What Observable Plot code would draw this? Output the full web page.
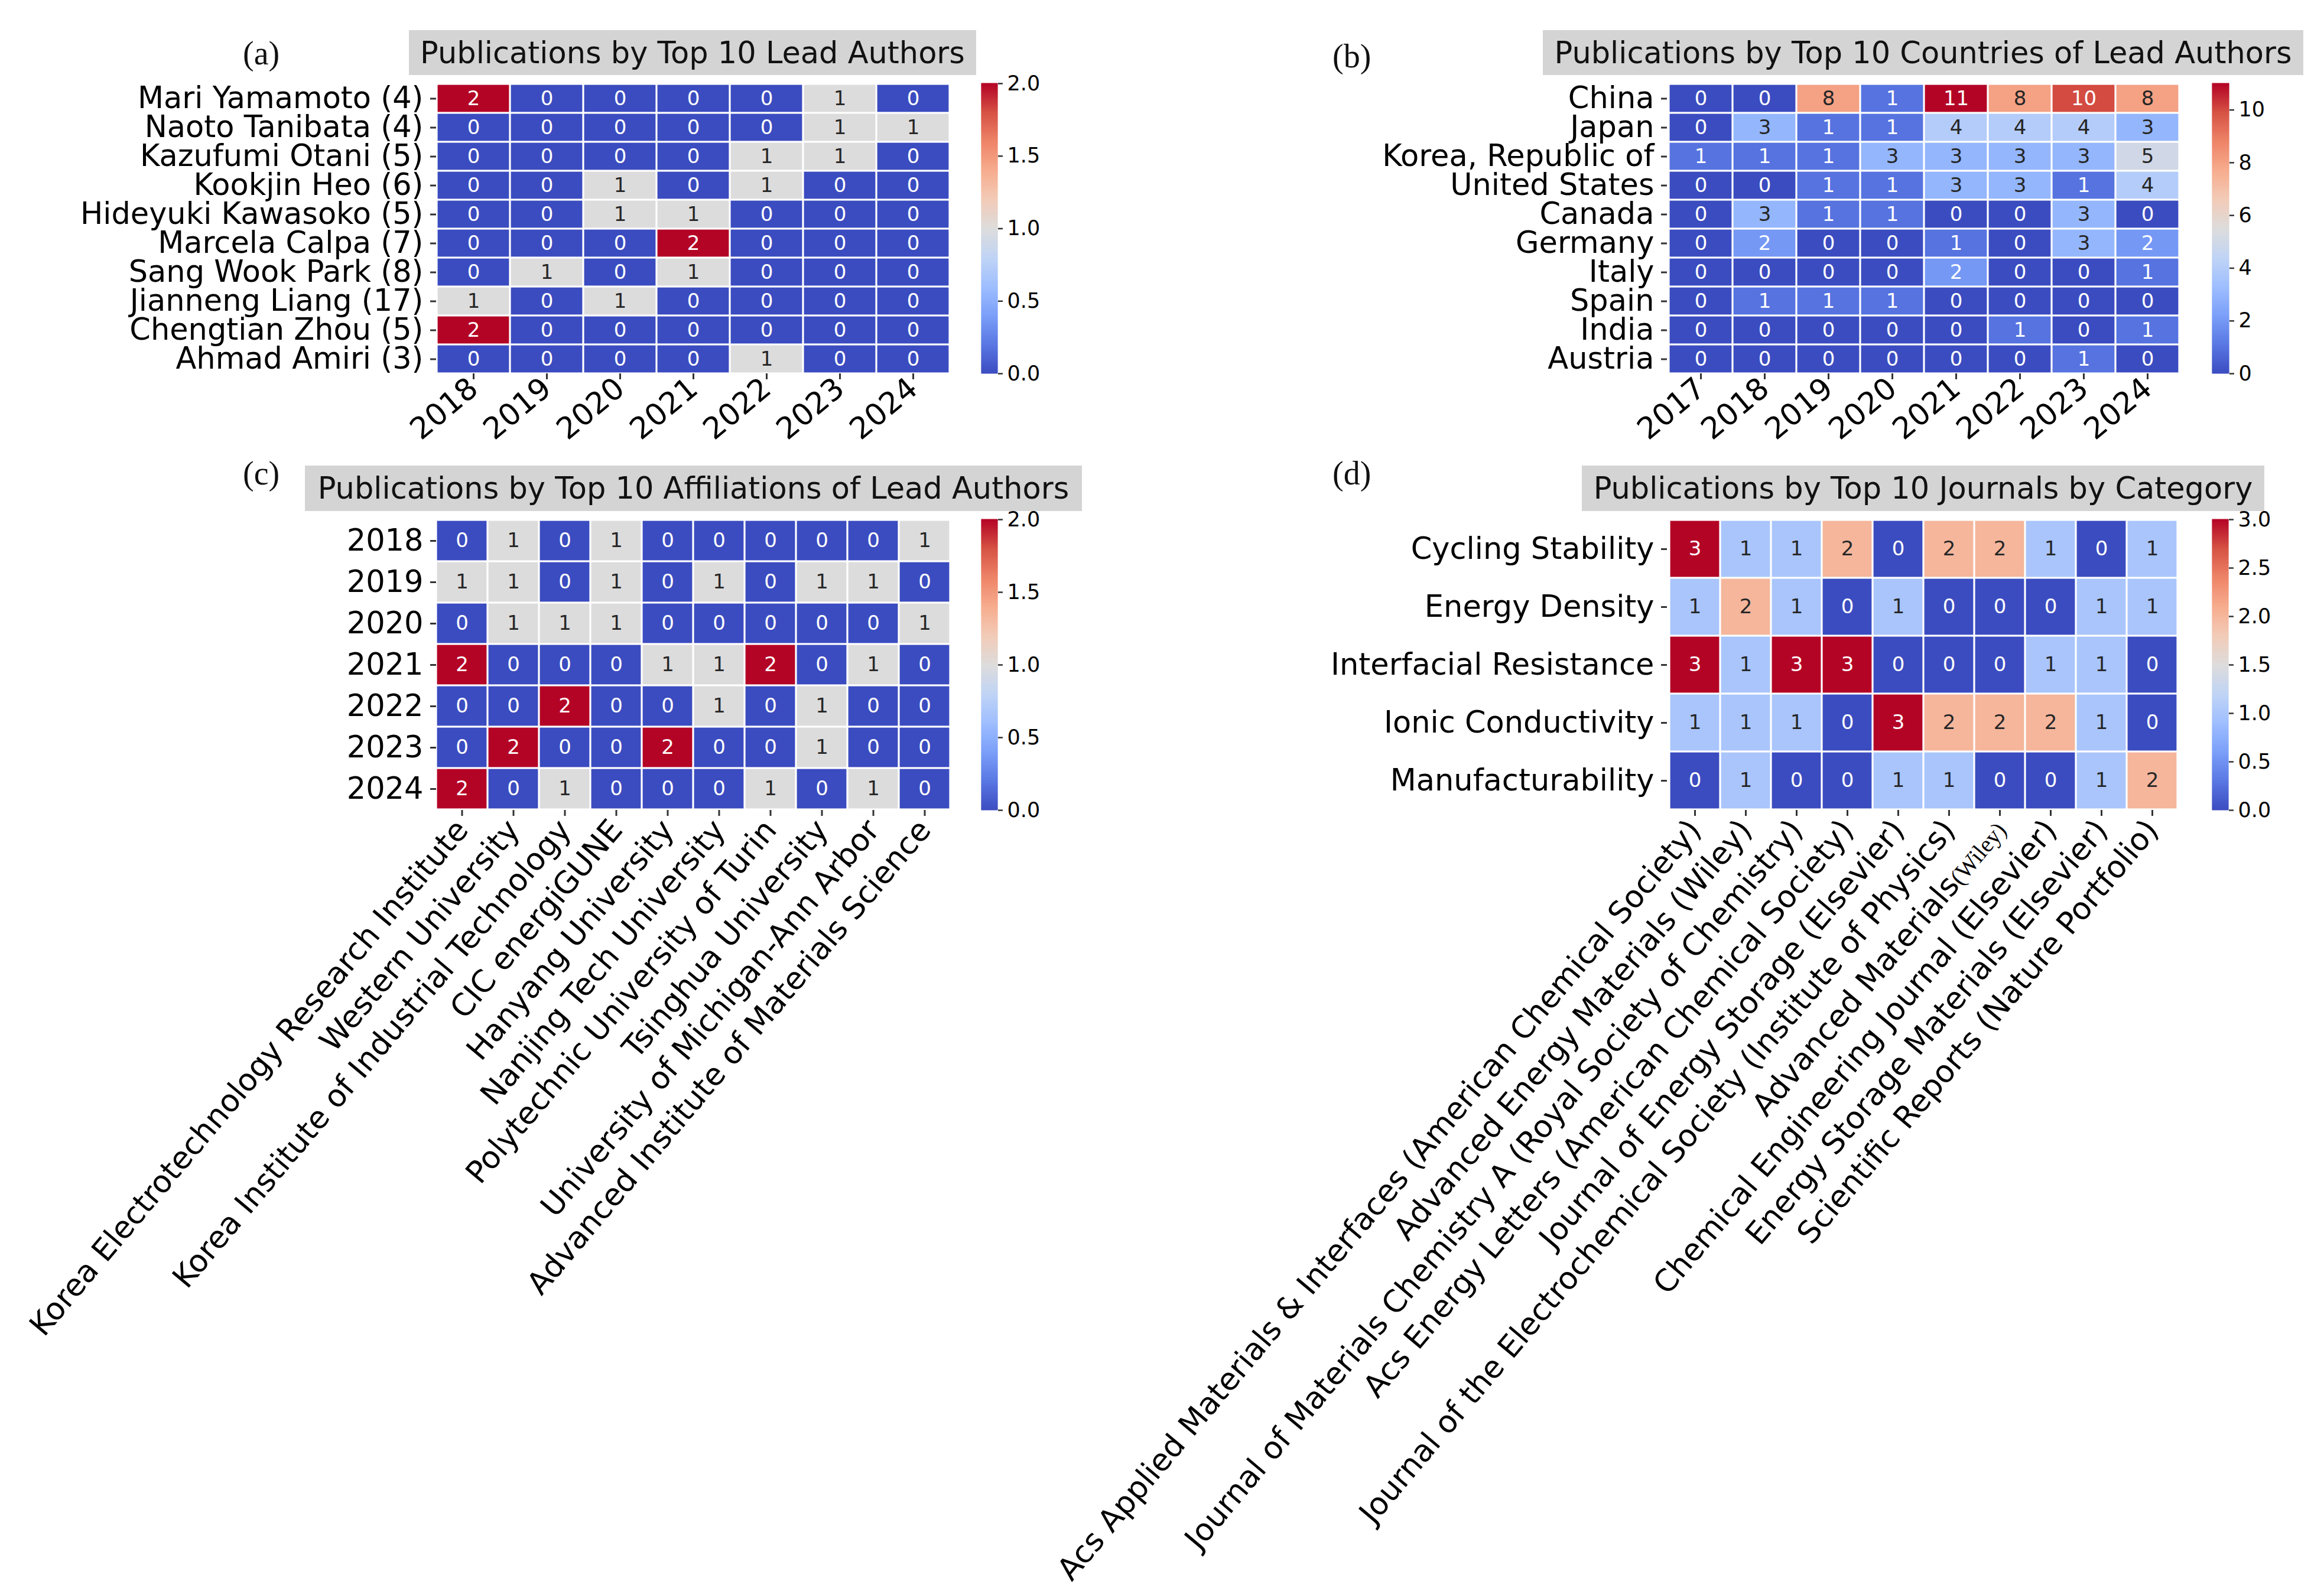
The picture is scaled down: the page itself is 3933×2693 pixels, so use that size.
<!DOCTYPE html>
<html>
<head>
<meta charset="utf-8">
<script src="https://cdn.jsdelivr.net/npm/d3@7"></script>
<script src="https://cdn.jsdelivr.net/npm/@observablehq/plot@0.6"></script>
<style>
  html, body { margin: 0; padding: 0; background: #fff; }
  #page { position: relative; width: 3933px; height: 2693px; overflow: hidden; background: #fff; }
  .title { position: absolute; background: #d4d4d4; display: flex; align-items: center; justify-content: center;
           font-family: "DejaVu Sans", sans-serif; font-size: 51px; color: #111; white-space: nowrap; }
  .plabel { position: absolute; font-family: "Liberation Serif", "Times New Roman", serif; font-size: 56px; line-height: 1; color: #111; }
  svg { overflow: visible; }
</style>
</head>
<body>
<div id="page"></div>
<script>
// ---------- DATA ----------
// (a) lead authors
const authorNames = ["Mari Yamamoto (4)", "Naoto Tanibata (4)", "Kazufumi Otani (5)", "Kookjin Heo (6)", "Hideyuki Kawasoko (5)",
  "Marcela Calpa (7)", "Sang Wook Park (8)", "Jianneng Liang (17)", "Chengtian Zhou (5)", "Ahmad Amiri (3)"];
const authorYears = ["2018", "2019", "2020", "2021", "2022", "2023", "2024"];
const authorCounts = [
  [2, 0, 0, 0, 0, 1, 0],
  [0, 0, 0, 0, 0, 1, 1],
  [0, 0, 0, 0, 1, 1, 0],
  [0, 0, 1, 0, 1, 0, 0],
  [0, 0, 1, 1, 0, 0, 0],
  [0, 0, 0, 2, 0, 0, 0],
  [0, 1, 0, 1, 0, 0, 0],
  [1, 0, 1, 0, 0, 0, 0],
  [2, 0, 0, 0, 0, 0, 0],
  [0, 0, 0, 0, 1, 0, 0]
];
const authorTicks = [0, 0.5, 1, 1.5, 2];

// (b) countries
const countryNames = ["China", "Japan", "Korea, Republic of", "United States", "Canada", "Germany", "Italy", "Spain", "India", "Austria"];
const countryYears = ["2017", "2018", "2019", "2020", "2021", "2022", "2023", "2024"];
const countryCounts = [
  [0, 0, 8, 1, 11, 8, 10, 8],
  [0, 3, 1, 1, 4, 4, 4, 3],
  [1, 1, 1, 3, 3, 3, 3, 5],
  [0, 0, 1, 1, 3, 3, 1, 4],
  [0, 3, 1, 1, 0, 0, 3, 0],
  [0, 2, 0, 0, 1, 0, 3, 2],
  [0, 0, 0, 0, 2, 0, 0, 1],
  [0, 1, 1, 1, 0, 0, 0, 0],
  [0, 0, 0, 0, 0, 1, 0, 1],
  [0, 0, 0, 0, 0, 0, 1, 0]
];
const countryTicks = [0, 2, 4, 6, 8, 10];

// (c) affiliations
const affilYears = ["2018", "2019", "2020", "2021", "2022", "2023", "2024"];
const affilNames = ["Korea Electrotechnology Research Institute", "Western University", "Korea Institute of Industrial Technology",
  "CIC energiGUNE", "Hanyang University", "Nanjing Tech University", "Polytechnic University of Turin",
  "Tsinghua University", "University of Michigan-Ann Arbor", "Advanced Institute of Materials Science"];
const affilCounts = [
  [0, 1, 0, 1, 0, 0, 0, 0, 0, 1],
  [1, 1, 0, 1, 0, 1, 0, 1, 1, 0],
  [0, 1, 1, 1, 0, 0, 0, 0, 0, 1],
  [2, 0, 0, 0, 1, 1, 2, 0, 1, 0],
  [0, 0, 2, 0, 0, 1, 0, 1, 0, 0],
  [0, 2, 0, 0, 2, 0, 0, 1, 0, 0],
  [2, 0, 1, 0, 0, 0, 1, 0, 1, 0]
];
const affilTicks = [0, 0.5, 1, 1.5, 2];

// (d) journals by category
const categoryNames = ["Cycling Stability", "Energy Density", "Interfacial Resistance", "Ionic Conductivity", "Manufacturability"];
const journalNames = ["Acs Applied Materials & Interfaces (American Chemical Society)", "Advanced Energy Materials (Wiley)",
  "Journal of Materials Chemistry A (Royal Society of Chemistry)", "Acs Energy Letters (American Chemical Society)",
  "Journal of Energy Storage (Elsevier)", "Journal of the Electrochemical Society (Institute of Physics)",
  "Advanced Materials(Wiley)", "Chemical Engineering Journal (Elsevier)", "Energy Storage Materials (Elsevier)",
  "Scientific Reports (Nature Portfolio)"];
const journalCounts = [
  [3, 1, 1, 2, 0, 2, 2, 1, 0, 1],
  [1, 2, 1, 0, 1, 0, 0, 0, 1, 1],
  [3, 1, 3, 3, 0, 0, 0, 1, 1, 0],
  [1, 1, 1, 0, 3, 2, 2, 2, 1, 0],
  [0, 1, 0, 0, 1, 1, 0, 0, 1, 2]
];
const journalTicks = [0, 0.5, 1, 1.5, 2, 2.5, 3];

// ---------- COLORMAP (matplotlib coolwarm samples) ----------
const coolwarmStops = ["#3b4cc0", "#5977e3", "#7b9ff9", "#9ebeff", "#c0d4f5", "#dddcdc", "#f2cbb7", "#f7ac8e", "#ee8468", "#d65244", "#b40426"];
const coolwarm = d3.piecewise(d3.interpolateRgb, coolwarmStops);

function isLight(v, max) {
  const c = d3.rgb(coolwarm(v / max));
  const lin = x => { x /= 255; return x <= 0.03928 ? x / 12.92 : Math.pow((x + 0.055) / 1.055, 2.4); };
  const L = 0.2126 * lin(c.r) + 0.7152 * lin(c.g) + 0.0722 * lin(c.b);
  return L > 0.408;
}

// ---------- LAYOUT ----------
const panels = [
  { key: "a", title: "Publications by Top 10 Lead Authors", rows: authorNames, cols: authorYears, values: authorCounts,
    max: 2, ticks: authorTicks, fmt: d3.format(".1f"), rotate: -40, xFont: 51, xPad: 8,
    hx: 738, hy: 141, hw: 870, hh: 491, cbx: 1661, cbw: 27,
    tb: [692, 1652, 51, 127], lab: [411, 62] },
  { key: "b", title: "Publications by Top 10 Countries of Lead Authors", rows: countryNames, cols: countryYears, values: countryCounts,
    max: 11, ticks: countryTicks, fmt: d3.format("d"), rotate: -40, xFont: 51, xPad: 8,
    hx: 2821, hy: 141, hw: 870, hh: 491, cbx: 3744, cbw: 28,
    tb: [2611, 3898, 51, 127], lab: [2255, 67] },
  { key: "c", title: "Publications by Top 10 Affiliations of Lead Authors", rows: affilYears, cols: affilNames, values: affilCounts,
    max: 2, ticks: affilTicks, fmt: d3.format(".1f"), rotate: -50, xFont: 52, xPad: 14,
    hx: 738, hy: 879, hw: 870, hh: 492, cbx: 1661, cbw: 27,
    tb: [516, 1831, 788, 865], lab: [411, 773] },
  { key: "d", title: "Publications by Top 10 Journals by Category", rows: categoryNames, cols: journalNames, values: journalCounts,
    max: 3, ticks: journalTicks, fmt: d3.format(".1f"), rotate: -50, xFont: 52, xPad: 14,
    hx: 2821, hy: 879, hw: 867, hh: 492, cbx: 3744, cbw: 27,
    tb: [2677, 3832, 788, 865], lab: [2255, 773] }
];

const page = document.getElementById("page");
const ML = 760, MR = 10, MT = 10, MB = 40;

for (const p of panels) {
  // panel label
  const lab = document.createElement("div");
  lab.className = "plabel";
  lab.style.left = p.lab[0] + "px"; lab.style.top = p.lab[1] + "px";
  lab.textContent = "(" + p.key + ")";
  page.appendChild(lab);

  // title box
  const t = document.createElement("div");
  t.className = "title";
  t.style.left = p.tb[0] + "px"; t.style.top = p.tb[2] + "px";
  t.style.width = (p.tb[1] - p.tb[0]) + "px"; t.style.height = (p.tb[3] - p.tb[2]) + "px";
  t.textContent = p.title;
  page.appendChild(t);

  // heatmap
  const data = p.rows.flatMap((r, i) => p.cols.map((c, j) => ({ row: r, col: c, value: p.values[i][j] })));
  const colorOpts = { type: "linear", domain: [0, p.max], interpolate: coolwarm };
  const hm = Plot.plot({
    width: ML + p.hw + MR, height: MT + p.hh + MB,
    marginLeft: ML, marginRight: MR, marginTop: MT, marginBottom: MB,
    x: { type: "band", domain: p.cols, padding: 0, label: null },
    y: { type: "band", domain: p.rows, padding: 0, label: null },
    color: colorOpts,
    style: { fontFamily: "DejaVu Sans, sans-serif", fontSize: "51px", color: "#000", background: "transparent", overflow: "visible" },
    marks: [
      Plot.cell(data, { x: "col", y: "row", fill: "value", inset: 1.6 }),
      Plot.text(data.filter(d => isLight(d.value, p.max)), { x: "col", y: "row", text: d => String(d.value), fill: "#262626", fontSize: 34 }),
      Plot.text(data.filter(d => !isLight(d.value, p.max)), { x: "col", y: "row", text: d => String(d.value), fill: "#ffffff", fontSize: 34 }),
      Plot.axisX({ tickRotate: p.rotate, tickSize: 10, tickPadding: p.xPad, fontSize: p.xFont, strokeWidth: 3, stroke: "#333", label: null }),
      Plot.axisY({ tickSize: 10, tickPadding: 12, strokeWidth: 3, stroke: "#333", label: null })
    ]
  });
  hm.style.position = "absolute";
  hm.style.left = (p.hx - ML) + "px";
  hm.style.top = (p.hy - MT) + "px";
  page.appendChild(hm);

  // special serif "(Wiley)" suffix
  hm.querySelectorAll("text").forEach(el => {
    if (el.textContent === "Advanced Materials(Wiley)") {
      el.textContent = "Advanced Materials";
      const ts = document.createElementNS("http://www.w3.org/2000/svg", "tspan");
      ts.setAttribute("font-family", "Liberation Serif, serif");
      ts.setAttribute("font-size", "40");
      ts.textContent = "(Wiley)";
      el.appendChild(ts);
    }
  });

  // colorbar
  const N = 256;
  const steps = d3.range(N).map(i => ({ y1: i / N * p.max, y2: (i + 1) / N * p.max, v: (i + 0.5) / N * p.max }));
  const CBR = 120;
  const cb = Plot.plot({
    width: p.cbw + CBR, height: MT + p.hh + MT,
    marginLeft: 0, marginRight: CBR, marginTop: MT, marginBottom: MT,
    x: { domain: [0, 1], axis: null },
    y: { domain: [0, p.max], axis: null },
    color: colorOpts,
    style: { fontFamily: "DejaVu Sans, sans-serif", fontSize: "35px", color: "#000", background: "transparent", overflow: "visible" },
    marks: [
      Plot.rect(steps, { x1: 0, x2: 1, y1: "y1", y2: "y2", fill: "v", stroke: "v", strokeWidth: 1 }),
      Plot.axisY({ anchor: "right", ticks: p.ticks, tickFormat: p.fmt, tickSize: 8, tickPadding: 8, strokeWidth: 2.5, stroke: "#333", label: null })
    ]
  });
  cb.style.position = "absolute";
  cb.style.left = p.cbx + "px";
  cb.style.top = (p.hy - MT) + "px";
  page.appendChild(cb);
}
</script>
</body>
</html>
